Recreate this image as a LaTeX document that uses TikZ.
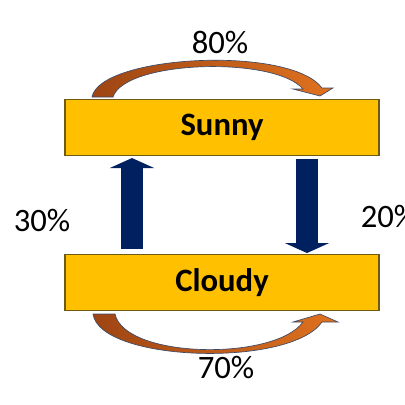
\documentclass[tikz,border=0pt]{standalone}
\usepackage{fontspec}
\setmainfont{Carlito}
\usetikzlibrary{arrows.meta}
\definecolor{statefill}{HTML}{FFC000}
\definecolor{stateedge}{HTML}{6E5A10}
\definecolor{flowblue}{HTML}{002060}
\definecolor{loopdark}{HTML}{9E4514}
\definecolor{looplight}{HTML}{E0721E}
\definecolor{loopedge}{HTML}{3E4A66}
\begin{document}
\begin{tikzpicture}
[x=0.75pt,y=-0.75pt,
 statedecorate/.style={shape=rectangle,draw=stateedge,fill=statefill,line width=0.8pt,%
   minimum width=235.5pt,minimum height=42pt,inner sep=0pt,%
   font=\bfseries\fontsize{24.5}{28}\selectfont},%
 flowdecorate/.style={draw=flowblue,line width=16.5pt,-{Triangle[width=33pt,length=7.5pt]}},%
 loopdecorate/.style={left color=loopdark,right color=looplight,draw=loopedge,line width=0.5pt},%
 labeldecorate/.style={inner sep=0pt,font=\fontsize{24.5}{28}\selectfont}]
\useasboundingbox[fill=white] (0,0) rectangle (405,405);
%% states
\foreach \nodename/\nodetext/\y in {sunny/Sunny/127.5, cloudy/Cloudy/282.5}
{
  \node (\nodename) at (222,\y) [statedecorate] {\nodetext};
}
%% staying arrows
\path[loopdecorate] (92,97) .. controls (100,55) and (290,45) .. (322,88)
  -- (333,88) -- (320,96) -- (293,89) -- (303,89)
  .. controls (275,56) and (125,60) .. (113,97) -- cycle;
\path[loopdecorate] (93,314) .. controls (100,362) and (290,368) .. (322,322)
  -- (338,322) -- (320,314) -- (293,322) -- (303,322)
  .. controls (275,361) and (125,359) .. (115,314) -- cycle;
%% switching arrows
\coordinate (upx) at (132,0);
\coordinate (downx) at (307,0);
\draw[flowdecorate,shorten <=3.7pt,shorten >=1.5pt] (cloudy.north -| upx) -- (sunny.south -| upx);
\draw[flowdecorate,shorten <=2.2pt,shorten >=0.7pt] (sunny.south -| downx) -- (cloudy.north -| downx);
%% probabilities
\foreach \labelname/\x/\y/\labeltext in {
  p11/220/42/80\%, p22/226/367/70\%, p21/42/220/30\%, p12/389/216/20\%}
{
  \node (\labelname) at (\x,\y) [labeldecorate] {\labeltext};
}
\end{tikzpicture}
\end{document}
